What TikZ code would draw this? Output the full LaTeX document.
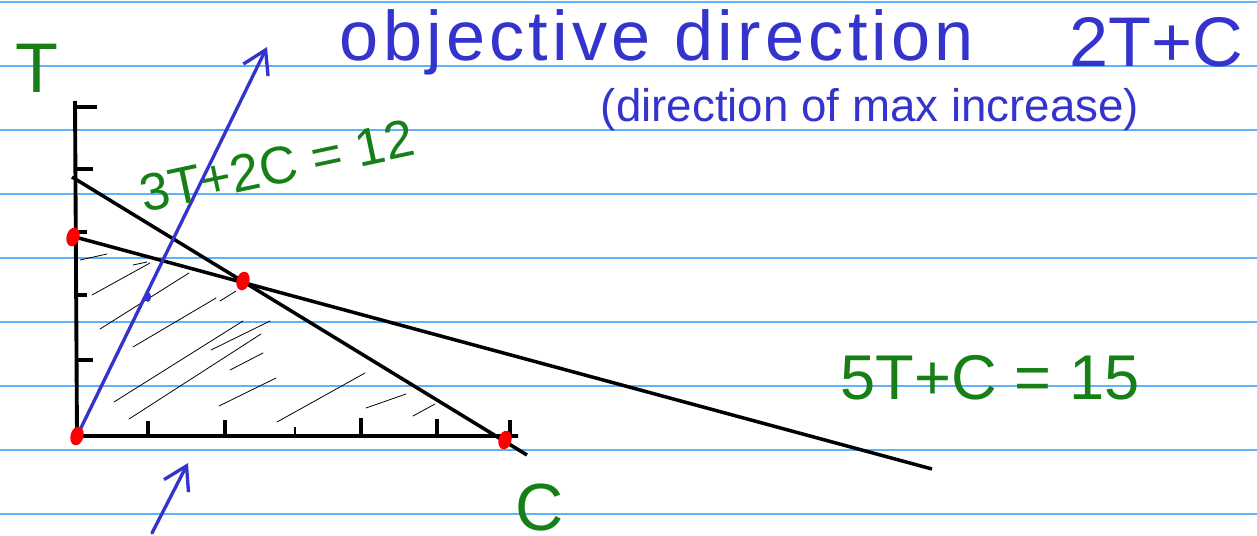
\documentclass[tikz,border=0pt]{standalone}
\usepackage{fontspec}
\setmainfont{Liberation Sans}
\usetikzlibrary{arrows.meta}
\definecolor{rule}{RGB}{95,178,250}
\definecolor{pen}{RGB}{52,52,205}
\definecolor{ink}{RGB}{22,128,22}

\begin{document}
\begin{tikzpicture}[x=0.02cm,y=-0.02cm,
    ruled/.style={draw=rule,line width=0.8pt},
    axis/.style={draw=black,line width=2.2pt},
    tickmark/.style={draw=black,line width=1.8pt},
    bound/.style={draw=black,line width=2pt},
    hatch/.style={draw=black,line width=0.45pt,line cap=round},
    objarrow/.style={draw=pen,line width=1.9pt,line cap=round,-{Straight Barb[length=4.5mm,width=5.5mm,line width=1.9pt]}},
    corner/.style={fill=red},
    bluetext/.style={text=pen,inner sep=0pt},
    greentext/.style={text=ink,inner sep=0pt}]
   \useasboundingbox (0,0) rectangle (1257,535);
   \fill[white] (0,0) rectangle (1257,535);
   % ruled paper
   \foreach \yy in {2,66,...,514} \draw[ruled] (0,\yy) -- (1257,\yy);
   % points
   \coordinate (o)    at (77,436);
   \coordinate (ttop) at (75,101);
   \coordinate (cend) at (518,436);
   \coordinate (a)    at (73,237);
   \coordinate (p)    at (243,281);
   \coordinate (b)    at (505,440);
   \coordinate (l1s)  at (72,177);
   \coordinate (l1e)  at (527,455);
   \coordinate (l2s)  at (75,237);
   \coordinate (l2e)  at (932,469);
   \coordinate (tip)  at (267,47);
   \coordinate (bs)   at (152,533);
   \coordinate (bt)   at (188,463);
   % hatching of the feasible region
   \foreach \xa/\ya/\xb/\yb in {80/260/107/254, 133/265/147/262, 92/295/150/263,
        100/329/189/273, 133/347/216/298, 220/301/236/291, 114/402/243/321,
        129/419/261/334, 211/350/270/321, 230/370/263/353, 219/406/276/378,
        277/422/365/373, 366/408/406/394, 413/416/435/404}
     \draw[hatch] (\xa,\ya) -- (\xb,\yb);
   % axes and ticks
   \draw[axis] (ttop) -- (o |- cend) -- (cend);
   \foreach \yy/\ll in {107/22, 169/18, 232/12, 295/12, 360/18}
     \draw[tickmark] (75,\yy) -- ++(\ll,0);
   \foreach \xx/\ll in {148/15, 225/16, 361/18, 437/17, 510/16}
     \draw[tickmark] (\xx,436) -- ++(0,-\ll);
   \draw[black,line width=1pt] (295,436) -- ++(0,-9);
   % constraint lines
   \draw[bound] (l1s) -- (l1e);
   \draw[bound] (l2s) -- (l2e);
   % objective direction
   \draw[objarrow] (o) -- (tip);
   \fill[pen] (148,297) ellipse [x radius=0.06cm, y radius=0.1cm];
   \draw[objarrow] (bs) -- (bt);
   % corner points
   \foreach \pt in {a,p,o,b}
     \fill[corner, rotate around={-15:(\pt)}] (\pt) ellipse [x radius=0.13cm, y radius=0.19cm];
   % labels
   \node[greentext,font=\fontsize{40}{44}\selectfont] (tlbl) at (37,68) {T};
   \node[greentext,font=\fontsize{38}{42}\selectfont] (clbl) at (540,508) {C};
   \node[bluetext,font=\fontsize{40}{44}\selectfont\addfontfeature{LetterSpace=6}] (objlbl) at (657,42) {objective direction};
   \node[bluetext,font=\fontsize{40}{44}\selectfont] (objfn) at (1156,42) {2T+C};
   \node[bluetext,font=\fontsize{26}{30}\selectfont] (maxlbl) at (870,110) {(direction of max increase)};
   \node[greentext,font=\fontsize{30}{34}\selectfont,rotate=12] (c1lbl) at (277,166) {3T+2C = 12};
   \node[greentext,font=\fontsize{36}{40}\selectfont] (c2lbl) at (990,378) {5T+C = 15};
  \end{tikzpicture}
\end{document}
